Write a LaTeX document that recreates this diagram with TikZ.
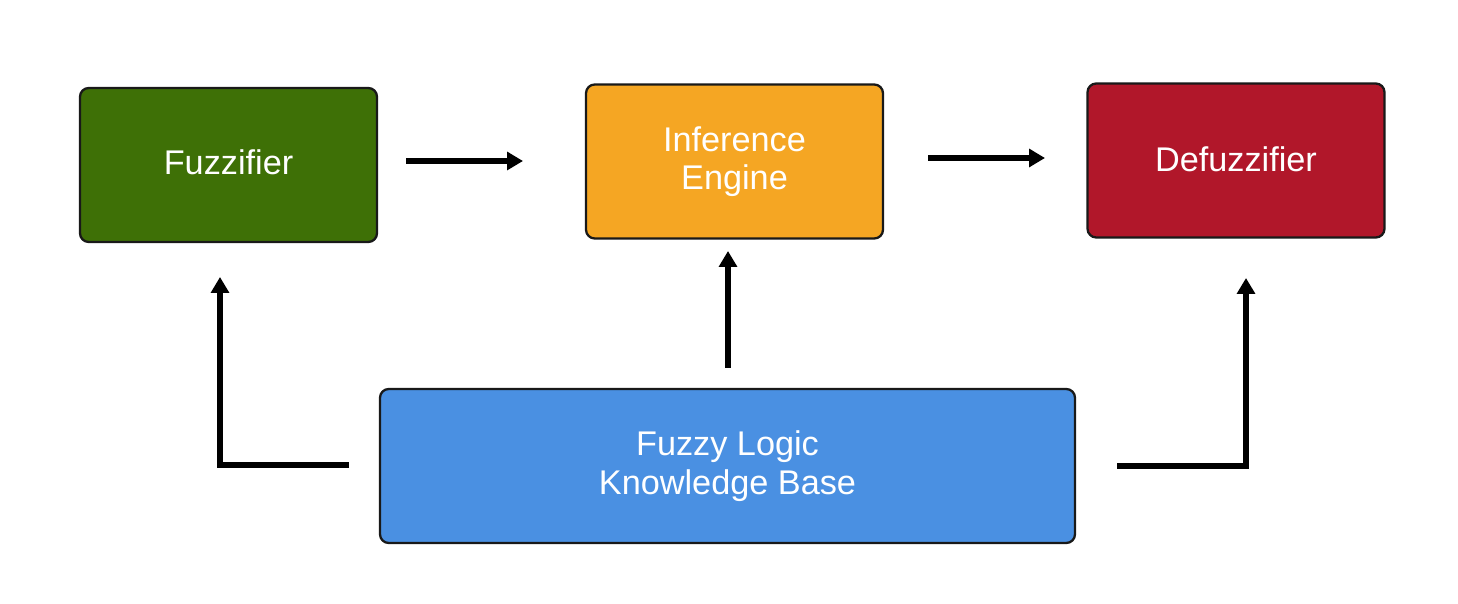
\documentclass[tikz,border=0pt]{standalone}
\usepackage{fontspec}
\setmainfont{Liberation Sans}
\usetikzlibrary{arrows.meta}
\definecolor{fgreen}{HTML}{3E7006}
\definecolor{forange}{HTML}{F5A623}
\definecolor{fred}{HTML}{B1172A}
\definecolor{fblue}{HTML}{4A90E2}
\tikzset{
  px/.style={x=0.02cm,y=-0.02cm},
  blockbox/.style={draw=black!90, line width=1.3pt, rounded corners=5pt, minimum width=297*0.02cm, minimum height=154*0.02cm, text=white, align=center, font=\fontsize{19.5}{22}\selectfont, inner sep=0pt},
  flow/.style={line width=3.1pt, -{Triangle[length=9pt,width=10pt]}}
}
\begin{document}
\begin{tikzpicture}[px]
\useasboundingbox (0,0) rectangle (1458,604);
\node[blockbox, fill=fgreen, text depth=3pt] (fuzz) at (228.5,165) {Fuzzifier};
\node[blockbox, fill=forange] (inf) at (734.5,161.5) {Inference\\Engine};
\node[blockbox, fill=fred, text depth=2pt] (defuzz) at (1236,160.5) {Defuzzifier};
\node[blockbox, fill=fblue, minimum width=695*0.02cm] (kb) at (727.5,466) {Fuzzy Logic\\Knowledge Base};
% free arrow ends
\coordinate (a1s) at (406,161);
\coordinate (a1e) at (523,161);
\coordinate (a2s) at (928,158);
\coordinate (a2e) at (1045,158);
\coordinate (lS) at (349,465);
\coordinate (lC) at (220,465);
\coordinate (lE) at (220,277);
\coordinate (mS) at (728,368);
\coordinate (mE) at (728,251);
\coordinate (rS) at (1117,466);
\coordinate (rC) at (1246,466);
\coordinate (rE) at (1246,278);
\draw[flow] (a1s) -- (a1e);
\draw[flow] (a2s) -- (a2e);
\draw[flow] (lS) -- (lC) -- (lE);
\draw[flow] (mS) -- (mE);
\draw[flow] (rS) -- (rC) -- (rE);
\end{tikzpicture}
\end{document}
